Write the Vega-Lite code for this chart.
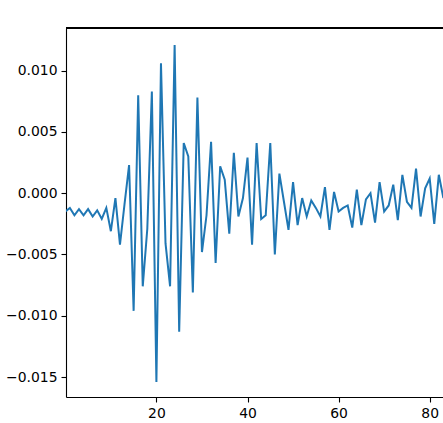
{
  "$schema": "https://vega.github.io/schema/vega-lite/v6.json",
  "autosize": {"type": "none"},
  "padding": {"left": 66, "top": 28, "right": 0, "bottom": 26},
  "width": 377,
  "height": 369,
  "background": "white",
  "config": {
    "view": {"stroke": null},
    "axis": {
      "labelFont": "DejaVu Sans",
      "labelFontSize": 13.9,
      "labelColor": "black",
      "tickColor": "black",
      "domainColor": "black",
      "domainWidth": 1.1,
      "tickWidth": 1.1,
      "tickSize": 5,
      "labelPadding": 4,
      "grid": false,
      "title": null
    }
  },
  "data": {
    "values": [
      {"t": 0, "v": -0.0015}, {"t": 1, "v": -0.0012}, {"t": 2, "v": -0.0018}, {"t": 3, "v": -0.0013},
      {"t": 4, "v": -0.0018}, {"t": 5, "v": -0.0013}, {"t": 6, "v": -0.0019}, {"t": 7, "v": -0.0014},
      {"t": 8, "v": -0.0021}, {"t": 9, "v": -0.0012}, {"t": 10, "v": -0.0031}, {"t": 11, "v": -0.0004},
      {"t": 12, "v": -0.0042}, {"t": 13, "v": -0.0009}, {"t": 14, "v": 0.0023}, {"t": 15, "v": -0.0096},
      {"t": 16, "v": 0.0080}, {"t": 17, "v": -0.0076}, {"t": 18, "v": -0.0029}, {"t": 19, "v": 0.0083},
      {"t": 20, "v": -0.0154}, {"t": 21, "v": 0.0106}, {"t": 22, "v": -0.0041}, {"t": 23, "v": -0.0076},
      {"t": 24, "v": 0.0121}, {"t": 25, "v": -0.0113}, {"t": 26, "v": 0.0041}, {"t": 27, "v": 0.0030},
      {"t": 28, "v": -0.0081}, {"t": 29, "v": 0.0078}, {"t": 30, "v": -0.0048}, {"t": 31, "v": -0.0018},
      {"t": 32, "v": 0.0042}, {"t": 33, "v": -0.0057}, {"t": 34, "v": 0.0022}, {"t": 35, "v": 0.0011},
      {"t": 36, "v": -0.0033}, {"t": 37, "v": 0.0033}, {"t": 38, "v": -0.0019}, {"t": 39, "v": -0.0004},
      {"t": 40, "v": 0.0029}, {"t": 41, "v": -0.0042}, {"t": 42, "v": 0.0041}, {"t": 43, "v": -0.0021},
      {"t": 44, "v": -0.0018}, {"t": 45, "v": 0.0041}, {"t": 46, "v": -0.0050}, {"t": 47, "v": 0.0016},
      {"t": 48, "v": -0.0007}, {"t": 49, "v": -0.0030}, {"t": 50, "v": 0.0009}, {"t": 51, "v": -0.0026},
      {"t": 52, "v": -0.0004}, {"t": 53, "v": -0.0019}, {"t": 54, "v": -0.0006}, {"t": 55, "v": -0.0012},
      {"t": 56, "v": -0.0019}, {"t": 57, "v": 0.0005}, {"t": 58, "v": -0.0030}, {"t": 59, "v": 0.0001},
      {"t": 60, "v": -0.0015}, {"t": 61, "v": -0.0012}, {"t": 62, "v": -0.0010}, {"t": 63, "v": -0.0028},
      {"t": 64, "v": 0.0003}, {"t": 65, "v": -0.0026}, {"t": 66, "v": -0.0005}, {"t": 67, "v": 0.0000},
      {"t": 68, "v": -0.0024}, {"t": 69, "v": 0.0009}, {"t": 70, "v": -0.0015}, {"t": 71, "v": -0.0010},
      {"t": 72, "v": 0.0007}, {"t": 73, "v": -0.0022}, {"t": 74, "v": 0.0015}, {"t": 75, "v": -0.0007},
      {"t": 76, "v": -0.0012}, {"t": 77, "v": 0.0020}, {"t": 78, "v": -0.0019}, {"t": 79, "v": 0.0004},
      {"t": 80, "v": 0.0012}, {"t": 81, "v": -0.0025}, {"t": 82, "v": 0.0015}, {"t": 83, "v": -0.0004}
    ]
  },
  "layer": [
    {
      "mark": {"type": "line", "color": "#1f77b4", "strokeWidth": 2, "clip": true},
      "encoding": {
        "x": {
          "field": "t",
          "type": "quantitative",
          "scale": {"domain": [0.15, 82.92], "nice": false, "zero": false},
          "axis": {"values": [20, 40, 60, 80], "format": "d"}
        },
        "y": {
          "field": "v",
          "type": "quantitative",
          "scale": {"domain": [-0.01663, 0.01348], "nice": false, "zero": false},
          "axis": {
            "values": [-0.015, -0.01, -0.005, 0, 0.005, 0.01],
            "labelExpr": "replace(format(datum.value, '.3f'), '-', '−')"
          }
        }
      }
    },
    {
      "mark": {"type": "rule", "color": "black", "strokeWidth": 1.1},
      "encoding": {"y": {"datum": 0.01348}}
    }
  ]
}
